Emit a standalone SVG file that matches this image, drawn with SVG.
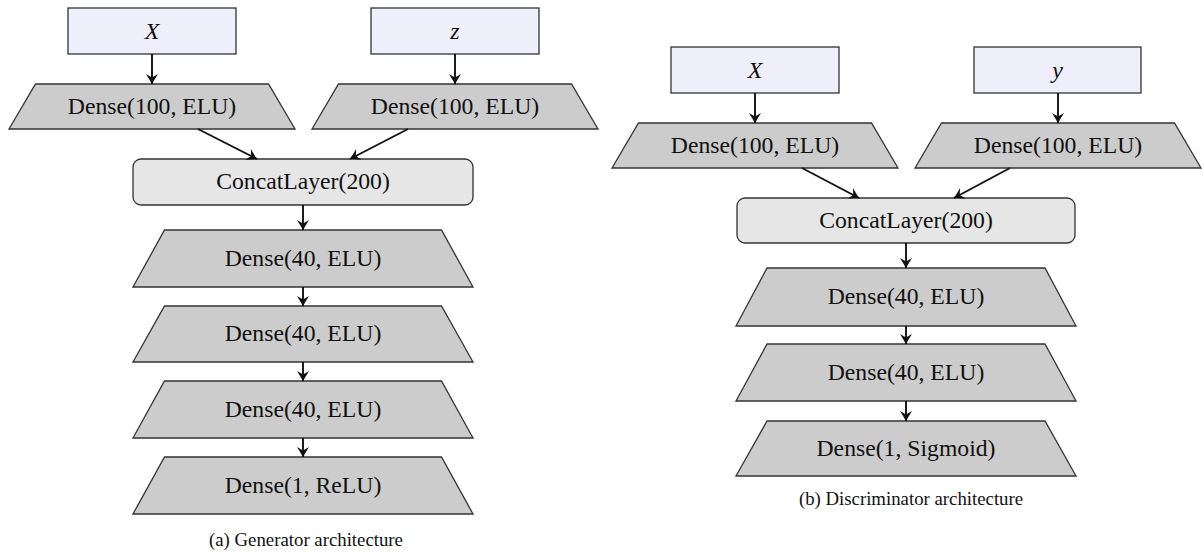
<svg xmlns="http://www.w3.org/2000/svg" width="1203" height="552" viewBox="0 0 1203 552">
<style>
  .inp { fill: #efeffb; stroke: #333; stroke-width: 1.3; }
  .dense { fill: #cccccc; stroke: #333; stroke-width: 1.3; }
  .concat { fill: #e6e6e6; stroke: #333; stroke-width: 1.3; }
  .lbl { font-family: "Liberation Serif", "Times New Roman", serif; font-size: 23.7px; fill: #111; text-anchor: middle; }
  .math { font-family: "Liberation Serif", "Times New Roman", serif; font-style: italic; font-size: 24px; fill: #111; text-anchor: middle; }
  .cap { font-family: "Liberation Serif", "Times New Roman", serif; font-size: 18.8px; fill: #111; text-anchor: middle; }
  .edge { stroke: #111; stroke-width: 1.9; fill: none; marker-end: url(#arr); }
</style>
<defs>
  <marker id="arr" markerUnits="userSpaceOnUse" viewBox="-12 -7 13 14" refX="0" refY="0" markerWidth="13" markerHeight="14" orient="auto">
    <path d="M0.5,0 C-2.5,-1.2 -6,-3.5 -10,-6 L-6.5,0 L-10,6 C-6,3.5 -2.5,1.2 0.5,0 Z" fill="#111"/>
  </marker>
</defs>

<!-- (a) Generator -->
<g id="gen-X"><rect class="inp" x="68" y="8" width="168" height="46"/><text class="math" x="152" y="39">X</text></g>
<g id="gen-z"><rect class="inp" x="371" y="8" width="168" height="46"/><text class="math" x="455" y="39">z</text></g>
<g id="gen-d100a"><polygon class="dense" points="35.5,84 268.5,84 295,129 9,129"/><text class="lbl" x="152" y="114">Dense(100, ELU)</text></g>
<g id="gen-d100b"><polygon class="dense" points="338.5,84 571.5,84 598,129 312,129"/><text class="lbl" x="455" y="114">Dense(100, ELU)</text></g>
<g id="gen-concat"><rect class="concat" x="133" y="159" width="340" height="46" rx="8"/><text class="lbl" x="303" y="189">ConcatLayer(200)</text></g>
<g id="gen-d40a"><polygon class="dense" points="164.5,230 441.5,230 473,287 133,287"/><text class="lbl" x="303" y="266">Dense(40, ELU)</text></g>
<g id="gen-d40b"><polygon class="dense" points="164.5,306 441.5,306 473,362 133,362"/><text class="lbl" x="303" y="341">Dense(40, ELU)</text></g>
<g id="gen-d40c"><polygon class="dense" points="164.5,381 441.5,381 473,438 133,438"/><text class="lbl" x="303" y="417">Dense(40, ELU)</text></g>
<g id="gen-d1"><polygon class="dense" points="164.5,457 441.5,457 473,514 133,514"/><text class="lbl" x="303" y="493">Dense(1, ReLU)</text></g>
<text class="cap" x="306" y="546">(a) Generator architecture</text>

<!-- (b) Discriminator -->
<g id="dis-X"><rect class="inp" x="671" y="47" width="168" height="46"/><text class="math" x="755" y="78">X</text></g>
<g id="dis-y"><rect class="inp" x="974" y="47" width="167" height="46"/><text class="math" x="1057.5" y="78">y</text></g>
<g id="dis-d100a"><polygon class="dense" points="638.5,123 871.5,123 898,168 612,168"/><text class="lbl" x="755" y="153">Dense(100, ELU)</text></g>
<g id="dis-d100b"><polygon class="dense" points="941.5,123 1174.5,123 1201,168 915,168"/><text class="lbl" x="1058" y="153">Dense(100, ELU)</text></g>
<g id="dis-concat"><rect class="concat" x="737" y="198" width="338" height="45" rx="8"/><text class="lbl" x="906" y="228">ConcatLayer(200)</text></g>
<g id="dis-d40a"><polygon class="dense" points="767,268 1045,268 1076,326 736,326"/><text class="lbl" x="906" y="304">Dense(40, ELU)</text></g>
<g id="dis-d40b"><polygon class="dense" points="767,344 1045,344 1076,401 736,401"/><text class="lbl" x="906" y="380">Dense(40, ELU)</text></g>
<g id="dis-d1"><polygon class="dense" points="767,421 1045,421 1076,476 736,476"/><text class="lbl" x="906" y="456">Dense(1, Sigmoid)</text></g>
<text class="cap" x="911" y="505">(b) Discriminator architecture</text>

<g id="connectors">
  <line class="edge" x1="152" y1="54" x2="152" y2="84"/>
  <line class="edge" x1="455" y1="54" x2="455" y2="84"/>
  <line class="edge" x1="198" y1="129" x2="257" y2="159"/>
  <line class="edge" x1="408" y1="129" x2="350" y2="159"/>
  <line class="edge" x1="303" y1="205" x2="303" y2="230"/>
  <line class="edge" x1="303" y1="287" x2="303" y2="306"/>
  <line class="edge" x1="303" y1="362" x2="303" y2="381"/>
  <line class="edge" x1="303" y1="438" x2="303" y2="457"/>

  <line class="edge" x1="755" y1="93" x2="755" y2="123"/>
  <line class="edge" x1="1058" y1="93" x2="1058" y2="123"/>
  <line class="edge" x1="802" y1="168" x2="859" y2="198"/>
  <line class="edge" x1="1010" y1="168" x2="954" y2="198"/>
  <line class="edge" x1="906" y1="243" x2="906" y2="268"/>
  <line class="edge" x1="906" y1="326" x2="906" y2="344"/>
  <line class="edge" x1="906" y1="401" x2="906" y2="421"/>
</g>
</svg>
